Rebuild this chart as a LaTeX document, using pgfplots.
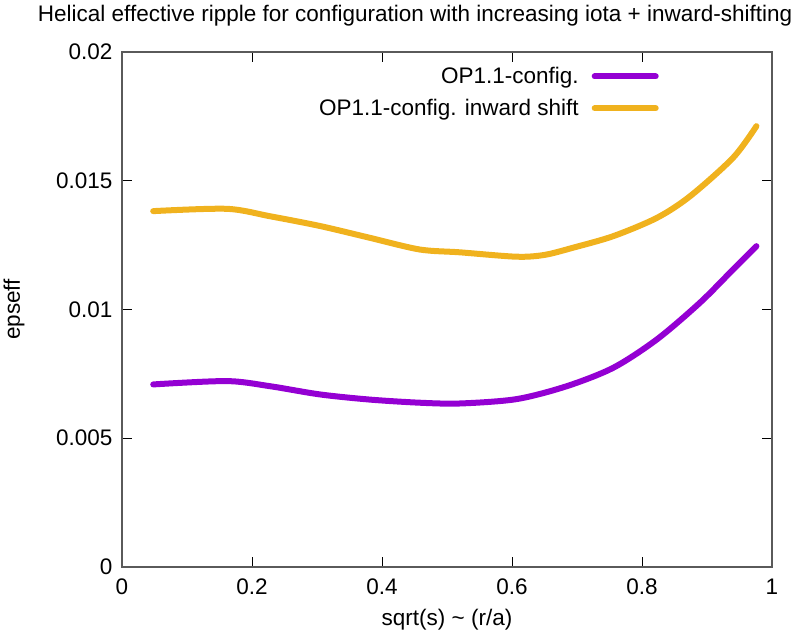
\documentclass[border=0pt]{standalone}
\usepackage{pgfplots}
\pgfplotsset{compat=1.18}
\usepackage{fontspec}
\setmainfont{Liberation Sans}
\definecolor{cpurple}{RGB}{148,0,211}
\definecolor{corange}{RGB}{240,178,30}
\definecolor{caxis}{RGB}{90,90,90}
\begin{document}
\begin{tikzpicture}
\begin{axis}[
  at={(0,0)}, anchor=south west,
  scale only axis,
  width=650bp, height=515bp,
  xmin=0, xmax=1, ymin=0, ymax=0.02,
  scaled y ticks=false, scaled x ticks=false,
  xtick={0,0.2,0.4,0.6,0.8,1},
  xticklabels={0,0.2,0.4,0.6,0.8,1},
  ytick={0,0.005,0.01,0.015,0.02},
  yticklabels={0,0.005,0.01,0.015,0.02},
  tick align=inside,
  major tick length=10bp,
  axis line style={caxis, line width=1.2bp},
  every tick/.style={black, line width=0.8bp},
  tick label style={font=\fontsize{22.5bp}{26bp}\selectfont},
  xticklabel style={yshift=-8bp},
  yticklabel style={xshift=-6bp},
  label style={font=\fontsize{22.5bp}{26bp}\selectfont},
  xlabel={sqrt(s) \textasciitilde{} (r/a)},
  ylabel={epseff},
  xlabel style={at={(0.5,0)}, anchor=center, yshift=-53bp},
  ylabel style={at={(0,0.5)}, anchor=center, rotate=0, xshift=0bp, yshift=108bp},
  title={Helical effective ripple for configuration with increasing iota + inward-shifting},
  title style={font=\fontsize{22.5bp}{26bp}\selectfont, at={(0.451,1)}, anchor=base, yshift=25bp},
  legend style={draw=none, fill=none, at={(0.826,0.974)}, anchor=north east,
    font=\fontsize{22.5bp}{26bp}\selectfont, inner sep=0pt, row sep=10bp},
  legend plot pos=right,
  legend cell align=right,
  legend image code/.code={\path (0bp,0bp); \draw[#1, line cap=round] (11bp,0bp) -- (72bp,0bp);},
]
\addplot[cpurple, line width=6bp, line cap=round, smooth] coordinates {
(0.048,0.00709) (0.161,0.00722) (0.228,0.00702) (0.305,0.00670) (0.382,0.00650)
(0.458,0.00638) (0.520,0.00635) (0.607,0.00652) (0.684,0.00702)
(0.756,0.00774) (0.823,0.00884) (0.889,0.01026) (0.940,0.01155) (0.976,0.01246)
};
\addlegendentry{OP1.1-config.}
\addplot[corange, line width=6bp, line cap=round, smooth] coordinates {
(0.048,0.01382) (0.161,0.01391) (0.228,0.01362) (0.305,0.01324) (0.382,0.01278)
(0.458,0.01233) (0.520,0.01222) (0.607,0.01205) (0.650,0.01212) (0.694,0.01240)
(0.756,0.01285) (0.823,0.01356) (0.874,0.01440) (0.940,0.01589) (0.976,0.01712)
};
\addlegendentry{OP1.1-config. inward shift}
\end{axis}
\pgfresetboundingbox
\path (-122bp,-76bp) rectangle (678bp,567bp);
\end{tikzpicture}
\end{document}
